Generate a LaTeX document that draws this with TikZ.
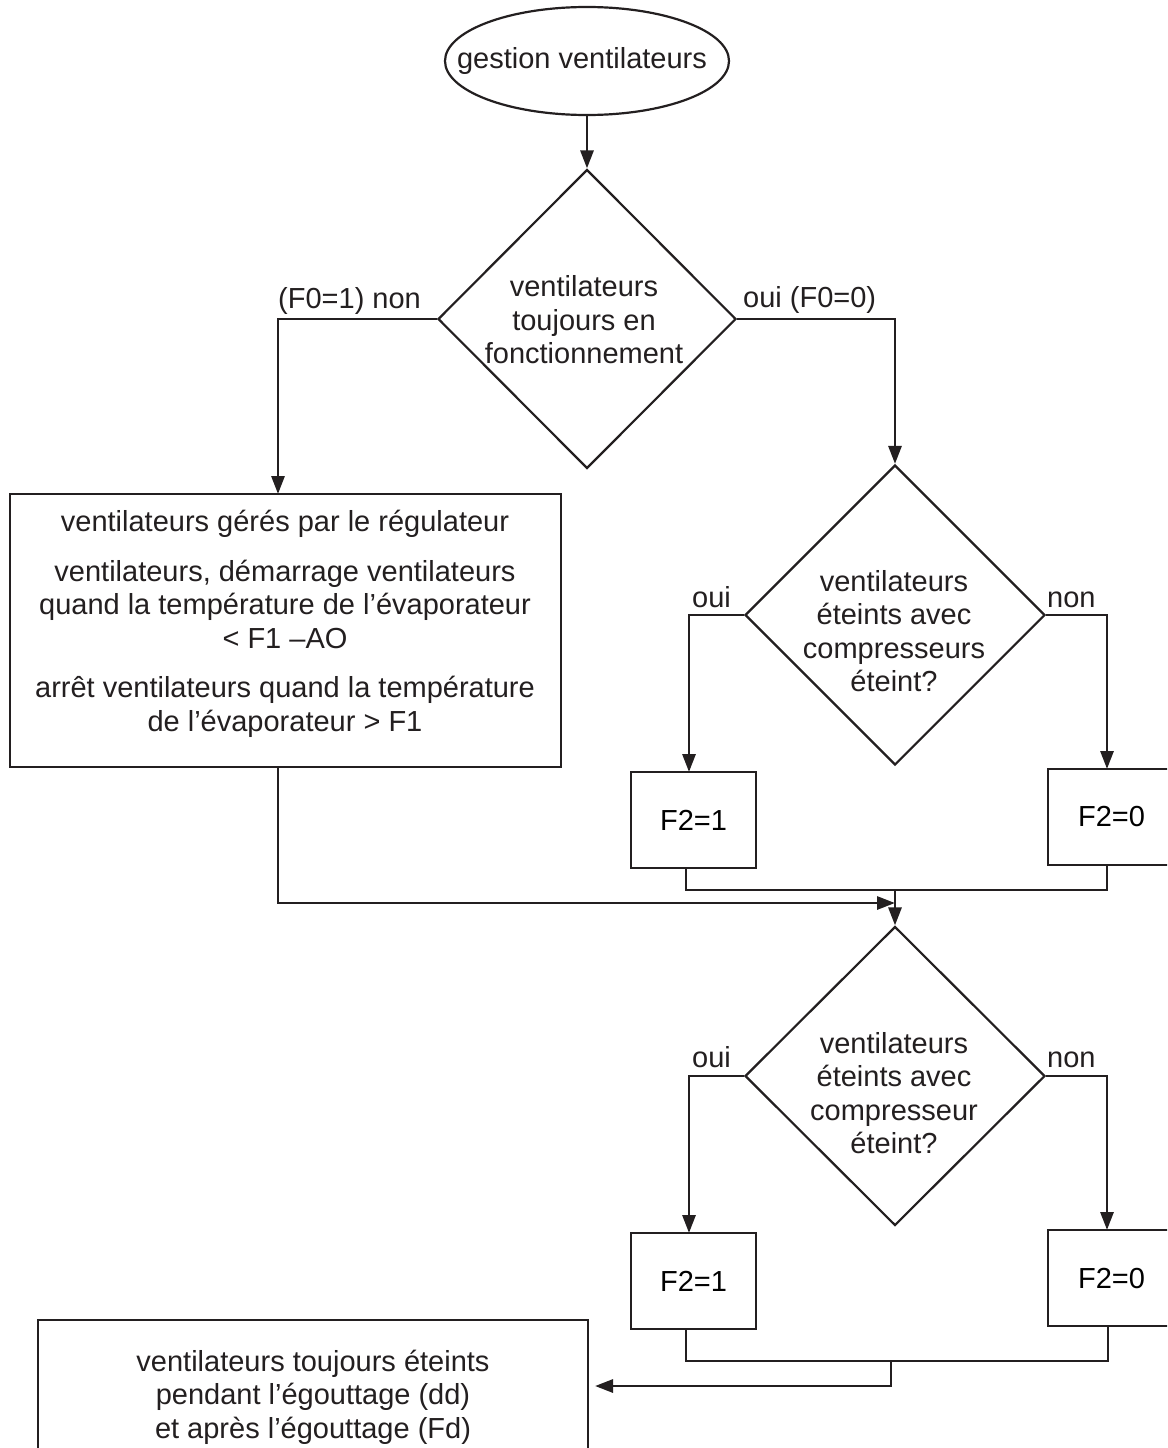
\documentclass[tikz,border=0pt]{standalone}
\usepackage{fontspec}
\setmainfont{Liberation Sans}
\usetikzlibrary{shapes.geometric,arrows.meta}
\definecolor{ink}{HTML}{231F20}
\begin{document}
\begin{tikzpicture}[x=1pt,y=-1pt,
  font=\fontsize{29}{33.5}\selectfont,
  shapeline/.style={draw=ink, line width=2.2pt},
  dia/.style={shapeline, diamond, inner sep=0pt},
  boxn/.style={shapeline, rectangle, inner sep=0pt},
  conn/.style={draw=ink, line width=2.9pt},
  arr/.style={conn, -{Triangle[length=18pt,width=13pt]}},
  lbl/.style={inner sep=0pt, anchor=base west, text=ink},
  txt/.style={align=center, inner sep=0pt, text=ink}]
\clip (0,0) rectangle (1167,1448);
\fill[white] (0,0) rectangle (1167,1448);

% start
\node[ellipse, shapeline, minimum width=284pt, minimum height=108pt, inner sep=0pt] (start) at (587,61) {};
\node[txt] (starttext) at (582,61) {gestion ventilateurs};

% decision 1
\node[dia, minimum width=298pt, minimum height=299pt] (d1) at (587,319) {};
\node[txt] (d1text) at (584,320) {ventilateurs\\toujours en\\fonctionnement};

% box 1
\node[boxn, minimum width=551pt, minimum height=273pt] (box1) at (285.5,630.5) {};
\node[txt] (box1text) at (285,624) {ventilateurs gérés par le régulateur\\[16pt]
ventilateurs, démarrage ventilateurs\\quand la température de l’évaporateur\\< F1 –AO\\[16pt]
arrêt ventilateurs quand la température\\de l’évaporateur > F1};

% decision 2
\node[dia, minimum width=300pt, minimum height=300pt] (d2) at (895,615) {};
\node[txt] (d2text) at (894,631) {ventilateurs\\éteints avec\\compresseurs\\éteint?};

\node[boxn, minimum width=125pt, minimum height=96pt] (f1a) at (693.5,820) {F2=1};
\node[boxn, minimum width=127pt, minimum height=96pt] (f0a) at (1111.5,817) {F2=0};

% decision 3
\node[dia, minimum width=300pt, minimum height=299pt] (d3) at (895,1076) {};
\node[txt] (d3text) at (894,1093) {ventilateurs\\éteints avec\\compresseur\\éteint?};

\node[boxn, minimum width=125pt, minimum height=96pt] (f1b) at (693.5,1281) {F2=1};
\node[boxn, minimum width=127pt, minimum height=96pt] (f0b) at (1111.5,1278) {F2=0};

% final box
\node[boxn, minimum width=550pt, minimum height=150pt] (final) at (313,1395) {};
\node[txt] (finaltext) at (313,1397) {ventilateurs toujours éteints\\pendant l’égouttage (dd)\\et après l’égouttage (Fd)};

% labels
\node[lbl] (l1) at (278,308) {(F0=1) non};
\node[lbl] (l2) at (743,307) {oui (F0=0)};
\node[lbl] (l3) at (692,607) {oui};
\node[lbl] (l4) at (1047,607) {non};
\node[lbl] (l5) at (692,1067) {oui};
\node[lbl] (l6) at (1047,1067) {non};

% coordinates
\coordinate (b1in) at (278,494);
\coordinate (b1out) at (278,767);
\coordinate (f1ain) at (689,772);
\coordinate (f0ain) at (1107,769);
\coordinate (f1aout) at (686,868);
\coordinate (f0aout) at (1107,865);
\coordinate (ja) at (895,890);
\coordinate (jin) at (895,903);
\coordinate (f1bin) at (689,1233);
\coordinate (f0bin) at (1107,1230);
\coordinate (f1bout) at (686,1329);
\coordinate (f0bout) at (1108,1326);
\coordinate (jb) at (891,1361);
\coordinate (fin) at (595,1386);

% connectors
\draw[arr] (start.south) -- (d1.north);
\draw[arr] (d1.west) -| (b1in);
\draw[arr] (d1.east) -| (d2.north);
\draw[arr] (d2.west) -| (f1ain);
\draw[arr] (d2.east) -| (f0ain);
\draw[conn] (f1aout) |- (f0aout |- ja) -- (f0aout);
\draw[arr] (ja) -- (d3.north);
\draw[arr] (b1out) |- (jin);
\draw[arr] (d3.west) -| (f1bin);
\draw[arr] (d3.east) -| (f0bin);
\draw[conn] (f1bout) |- (f0bout |- jb) -- (f0bout);
\draw[arr] (jb) |- (fin);
\end{tikzpicture}
\end{document}
